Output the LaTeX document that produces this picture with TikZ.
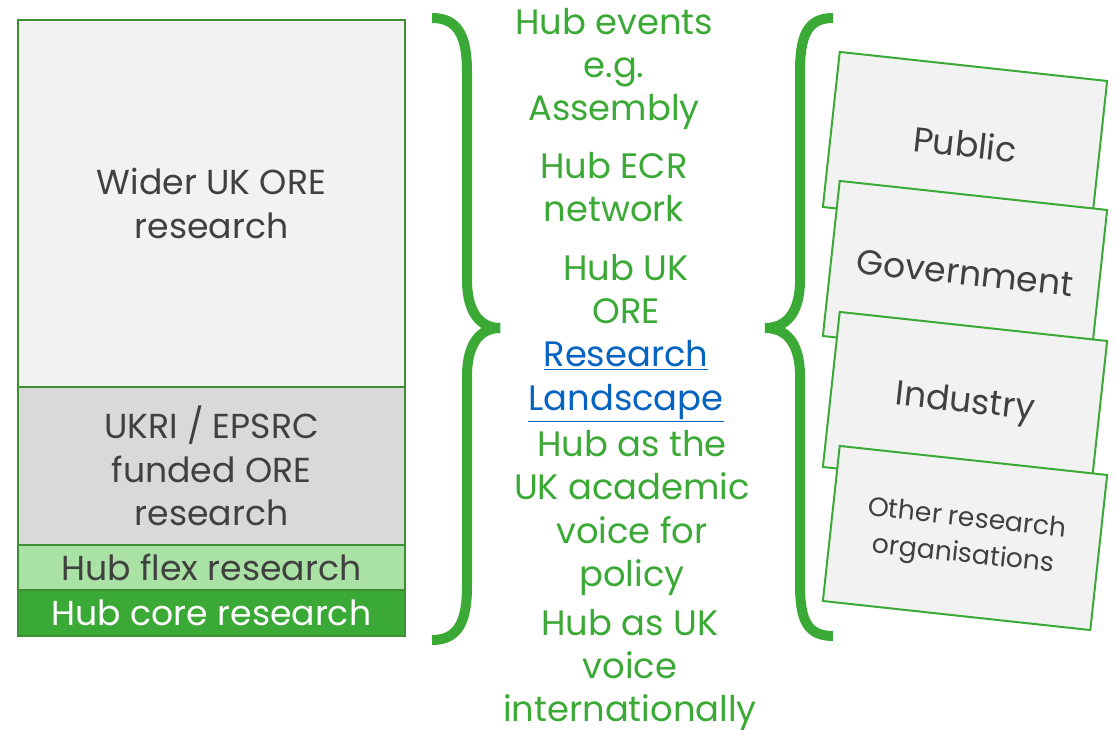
\documentclass[tikz,border=0pt]{standalone}
\usepackage{fontspec}
\setmainfont{Poppins}
\usetikzlibrary{positioning}
\definecolor{hubgreen}{HTML}{3BA935}
\definecolor{stackline}{HTML}{3E8E33}
\definecolor{flexgreen}{HTML}{A9E2A4}
\definecolor{midgrey}{HTML}{D9D9D9}
\definecolor{lightgrey}{HTML}{F2F2F2}
\definecolor{textgrey}{HTML}{404040}
\definecolor{linkblue}{HTML}{0563C1}
\newcommand{\bigfont}{\fontsize{26}{32.5}\selectfont}
\newcommand{\midfont}{\fontsize{26.5}{32.5}\selectfont}
\newcommand{\smallfont}{\fontsize{20}{27}\selectfont}

\begin{document}
\begin{tikzpicture}[x=0.75pt, y=-0.75pt]
            \tikzstyle{layer} = [rectangle, draw=stackline, line width=1.5pt, minimum width=290.25pt, inner sep=0pt, outer sep=0pt, text=textgrey, align=center, font=\bigfont]
            \tikzstyle{card} = [rectangle, draw=hubgreen, line width=1.5pt, fill=lightgrey, minimum width=201.75pt, minimum height=117pt, text=textgrey, align=center, font=\bigfont, rotate=-6.2]
            \tikzstyle{hubtext} = [text=hubgreen, align=center, font=\midfont, inner sep=0pt]
            \tikzstyle{brace} = [draw=hubgreen, line width=7.5pt]

            \useasboundingbox (0,0) rectangle (1117,730);

            % research stack
            \node[layer, fill=lightgrey, minimum height=275.25pt, anchor=north west] (wider) at (18,20) {Wider UK ORE\\research};
            \node[layer, fill=midgrey, minimum height=118.5pt, below=0pt of wider] (ukri) {UKRI / EPSRC\\funded ORE\\research};
            \node[layer, fill=flexgreen, minimum height=33.75pt, below=0pt of ukri] (flex) {Hub flex research};
            \node[layer, fill=hubgreen, minimum height=34.5pt, below=0pt of flex, text=white] (core) {Hub core research};

            % braces
            \path[brace] (432,18) .. controls (458,18) and (467,36) .. (467,72) -- (467,280)
                .. controls (467,312) and (480,328) .. (500,328)
                .. controls (480,328) and (467,344) .. (467,376) -- (467,586)
                .. controls (467,622) and (458,640) .. (432,640);
            \path[brace] (833,18) .. controls (807,18) and (800,36) .. (800,72) -- (800,280)
                .. controls (800,312) and (787,328) .. (765,328)
                .. controls (787,328) and (800,344) .. (800,376) -- (800,584)
                .. controls (800,620) and (807,636) .. (833,636);

            % hub activities
            \node[hubtext] (events) at (614,69) {Hub events\\e.g.\\Assembly};
            \node[hubtext] (ecr) at (614,187) {Hub ECR\\network};
            \node[hubtext] (landscape) at (626,338) {Hub UK\\ORE\\\textcolor{linkblue}{\underline{Research}}\\\textcolor{linkblue}{\underline{Landscape}}};
            \node[hubtext] (policy) at (632,513) {Hub as the\\UK academic\\voice for\\policy};
            \node[hubtext] (intl) at (630,670) {Hub as UK\\voice\\internationally};

            % stakeholders
            \node[card] (public) at (965,144) {Public};
            \node[card] (government) at (965,273) {Government};
            \node[card] (industry) at (965,404) {Industry};
            \node[card, font=\smallfont] (other) at (965,538) {Other research\\organisations};
        \end{tikzpicture}
\end{document}
